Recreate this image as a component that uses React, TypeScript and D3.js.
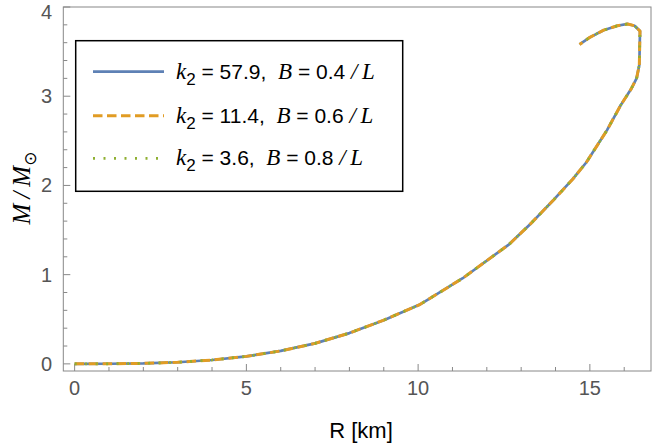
import React, { useEffect, useRef } from "react";
import * as d3 from "d3";

// mass-radius curve (R in km, M in solar masses)
const radius = [
  0, 1, 2, 3, 4, 5, 6, 7, 8, 9, 10.05, 11.3, 12.65, 13.3, 13.95, 14.5, 14.9,
  15.5, 15.9, 16.2, 16.36, 16.44, 16.46, 16.3, 16.1, 15.8, 15.4, 15.0, 14.7,
];
const massA = [
  0, 0.001, 0.005, 0.018, 0.043, 0.084, 0.145, 0.23, 0.345, 0.49, 0.665, 0.96,
  1.34, 1.58, 1.84, 2.07, 2.26, 2.62, 2.9, 3.08, 3.2, 3.35, 3.73, 3.79, 3.81,
  3.79, 3.74, 3.66, 3.58,
];
// the three curves lie on top of each other
const massB = massA.slice();
const massC = massA.slice();

const seriesNames = [
  { k2: "57.9", b: "0.4" },
  { k2: "11.4", b: "0.6" },
  { k2: "3.6", b: "0.8" },
];
const xTicks = [0, 5, 10, 15];
const yTicks = [0, 1, 2, 3, 4];

const colors = ["#5E81B5", "#E19C24", "#8FB032"];
const dashes = [null, "9.5,4.5", "2,8.5"];
const widths = [2.7, 3, 2.7];

const App = () => {
  const svgRef = useRef(null);
  const width = 654;
  const height = 445;

  useEffect(() => {
    const svg = d3.select(svgRef.current);
    svg.selectAll("*").remove();

    const left = 63.3;
    const right = 651;
    const top = 7;
    const bottom = 371;

    const xScale = d3.scaleLinear().domain([-0.33, 16.78]).range([left, right]);
    const yScale = d3.scaleLinear().domain([-0.08, 4.0]).range([bottom, top]);

    const frameColor = "#888888";
    const labelColor = "#555555";
    const sans = "'Liberation Sans', Arial, sans-serif";
    const serif = "'Liberation Serif', 'Times New Roman', serif";

    // frame
    svg
      .append("rect")
      .attr("x", left)
      .attr("y", top)
      .attr("width", right - left)
      .attr("height", bottom - top)
      .attr("fill", "none")
      .attr("stroke", frameColor)
      .attr("stroke-width", 1);

    // x ticks (inward)
    const xMinor = d3.range(0, 17, 1);
    svg
      .append("g")
      .selectAll("line")
      .data(xMinor)
      .join("line")
      .attr("x1", (d) => xScale(d))
      .attr("x2", (d) => xScale(d))
      .attr("y1", bottom)
      .attr("y2", (d) => (d % 5 === 0 ? bottom - 7 : bottom - 4))
      .attr("stroke", frameColor);

    svg
      .append("g")
      .selectAll("text")
      .data(xTicks)
      .join("text")
      .attr("x", (d) => xScale(d))
      .attr("y", 395)
      .attr("text-anchor", "middle")
      .attr("font-family", sans)
      .attr("font-size", 20)
      .attr("fill", labelColor)
      .text((d) => d);

    // y ticks (inward)
    const yMinor = d3.range(0, 4.001, 0.2);
    svg
      .append("g")
      .selectAll("line")
      .data(yMinor)
      .join("line")
      .attr("x1", left)
      .attr("x2", (d) =>
        Math.abs(d - Math.round(d)) < 1e-6 ? left + 7 : left + 4
      )
      .attr("y1", (d) => yScale(d))
      .attr("y2", (d) => yScale(d))
      .attr("stroke", frameColor);

    svg
      .append("g")
      .selectAll("text")
      .data(yTicks)
      .join("text")
      .attr("x", 52)
      .attr("y", (d) => Math.max(yScale(d) + 7, 19))
      .attr("text-anchor", "end")
      .attr("font-family", sans)
      .attr("font-size", 20)
      .attr("fill", labelColor)
      .text((d) => d);

    // curves
    const line = d3
      .line()
      .x((d) => xScale(d[0]))
      .y((d) => yScale(d[1]));

    [massA, massB, massC].forEach((mass, i) => {
      const pts = radius.map((r, j) => [r, mass[j]]);
      svg
        .append("path")
        .attr("d", line(pts))
        .attr("fill", "none")
        .attr("stroke", colors[i])
        .attr("stroke-width", widths[i])
        .attr("stroke-dasharray", dashes[i])
        .attr("stroke-linejoin", "round");
    });

    // legend
    const legend = svg.append("g");
    legend
      .append("rect")
      .attr("x", 75.7)
      .attr("y", 40.7)
      .attr("width", 327)
      .attr("height", 150.6)
      .attr("fill", "white")
      .attr("stroke", "black")
      .attr("stroke-width", 1.5);

    const rowY = [71.7, 115.7, 158.3];
    seriesNames.forEach((s, i) => {
      legend
        .append("line")
        .attr("x1", 93)
        .attr("x2", 164)
        .attr("y1", rowY[i])
        .attr("y2", rowY[i])
        .attr("stroke", colors[i])
        .attr("stroke-width", widths[i])
        .attr("stroke-dasharray", dashes[i]);

      const t = legend
        .append("text")
        .attr("x", 176)
        .attr("y", rowY[i] + 7)
        .attr("font-family", sans)
        .attr("font-size", 21)
        .attr("fill", "black");
      t.append("tspan")
        .attr("font-family", serif)
        .attr("font-style", "italic")
        .attr("font-size", 23)
        .text("k");
      t.append("tspan").attr("dy", 6).attr("font-size", 17).text("2");
      t.append("tspan").attr("dy", -6).text(` = ${s.k2},\u00a0\u00a0`);
      t.append("tspan")
        .attr("font-family", serif)
        .attr("font-style", "italic")
        .attr("font-size", 23)
        .text("B");
      t.append("tspan").text(` = ${s.b} `);
      t.append("tspan")
        .attr("font-family", serif)
        .attr("font-style", "italic")
        .attr("font-size", 23)
        .text("/\u2009L");
    });

    // axis labels
    svg
      .append("text")
      .attr("x", 361)
      .attr("y", 438)
      .attr("text-anchor", "middle")
      .attr("font-family", sans)
      .attr("font-size", 22)
      .attr("fill", "black")
      .text("R [km]");

    const yl = svg
      .append("text")
      .attr("transform", "translate(30,188) rotate(-90)")
      .attr("text-anchor", "middle")
      .attr("font-family", serif)
      .attr("font-style", "italic")
      .attr("font-size", 25)
      .attr("fill", "black");
    yl.append("tspan").text("M\u2009/\u2009M");
    yl.append("tspan")
      .attr("dy", 6)
      .attr("font-style", "normal")
      .attr("font-family", "'DejaVu Sans', sans-serif")
      .attr("font-size", 17)
      .text("\u2299");
  }, []);

  return (
    <svg
      ref={svgRef}
      width={width}
      height={height}
      style={{ position: "absolute", left: 0, top: 0, background: "white" }}
    ></svg>
  );
};

export default App;
